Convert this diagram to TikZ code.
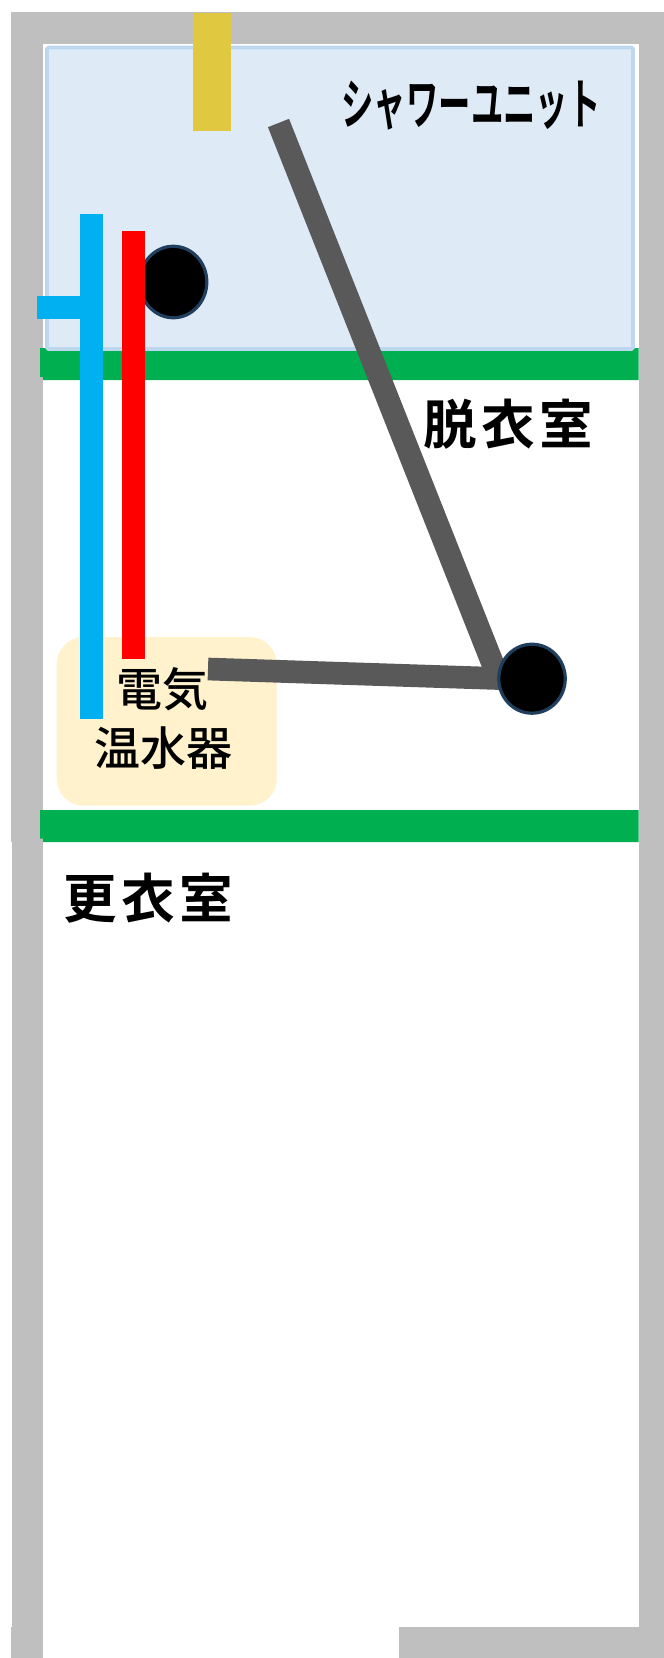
\documentclass[tikz,border=0pt]{standalone}
\usepackage{fontspec}
\newfontfamily\cjk{Noto Sans CJK JP Medium}
\newfontfamily\cjkb[LetterSpace=8]{Noto Sans CJK JP Bold}
\newfontfamily\cjkc{Noto Sans CJK JP Bold}
\definecolor{wall}{HTML}{BFBFBF}
\definecolor{unitfill}{HTML}{DEEBF7}
\definecolor{unitline}{HTML}{BDD7EE}
\definecolor{yellowbar}{HTML}{E0C941}
\definecolor{bluepipe}{HTML}{00B0F0}
\definecolor{redpipe}{HTML}{FF0000}
\definecolor{greenbar}{HTML}{00B050}
\definecolor{doorgrey}{HTML}{595959}
\definecolor{heater}{HTML}{FFF2CC}
\definecolor{ringc}{HTML}{203F5F}
\usetikzlibrary{shapes.geometric}
\tikzset{
  wallpart/.style={fill=wall,draw=none},
  greenpart/.style={fill=greenbar,draw=none},
  doorline/.style={draw=doorgrey,line width=22.7pt,line cap=butt},
  hinge/.style={ellipse,draw=ringc,line width=3.2pt,fill=black,inner sep=0pt},
  labelb/.style={font=\fontsize{53.5}{53.5}\selectfont\cjkb,text=black,inner sep=0pt},
  labelm/.style={font=\fontsize{46}{46}\selectfont\cjk,text=black,inner sep=0pt},
}
\begin{document}
\begin{tikzpicture}[x=1pt,y=-1pt]
\useasboundingbox (0,0) rectangle (664,1658);
\fill[white] (0,0) rectangle (664,1658);
% walls
\path[wallpart] (11,12) rectangle (664,44);
\path[wallpart] (11,12) rectangle (43,842);
\path[wallpart] (12,842) rectangle (43,1658);
\path[wallpart] (11,1627) rectangle (43,1658);
\path[wallpart] (638.5,12) rectangle (664,1658);
\path[wallpart] (399,1627) rectangle (664,1658);
% green bars
\path[greenpart] (40,348) -- (638.5,348) -- (638.5,380) -- (43,380) -- (43,377) -- (40,377) -- cycle;
\path[greenpart] (40,810) -- (638.5,810) -- (638.5,842) -- (43,842) -- (43,838.5) -- (40,838.5) -- cycle;
% shower unit
\draw[fill=unitfill,draw=unitline,line width=3.6pt,rounded corners=1.5pt] (47,47.5) rectangle (633,349);
\path[fill=yellowbar] (193,13) rectangle (231,131);
% heater
\path[fill=heater,rounded corners=27pt] (56.7,637) rectangle (276.7,805.7);
% hinge of the shower door
\node[hinge,minimum width=67pt,minimum height=71.5pt] (hingeA) at (173.3,282) {};
% door lines
\coordinate (doorTop) at (278.5,123);
\coordinate (doorLeft) at (208,669);
\coordinate (doorJoin) at (498.7,678.7);
\coordinate (doorJoinH) at (532,679.6);
\draw[doorline] (doorTop) -- (doorJoin);
\draw[doorline] (doorLeft) -- (doorJoinH);
\node[hinge,minimum width=66.5pt,minimum height=69pt] (hingeB) at (532,678.7) {};
% pipes
\path[fill=bluepipe] (80,214) rectangle (103,719);
\path[fill=bluepipe] (37,296) rectangle (80,319);
\path[fill=redpipe] (122,231) rectangle (145,659);
% labels
\node[labelm] (t1) at (162.5,689) {電気};
\node[labelm] (t2) at (163,748) {温水器};
\node[labelb] (t3) at (508,424) {脱衣室};
\node[labelb] (t4) at (148,898) {更衣室};
\node[font=\fontsize{55}{55}\selectfont\cjkc,inner sep=0pt] (t5) at (471,105.5) {\scalebox{.588}[1]{シャワーユニット}};
\end{tikzpicture}
\end{document}
